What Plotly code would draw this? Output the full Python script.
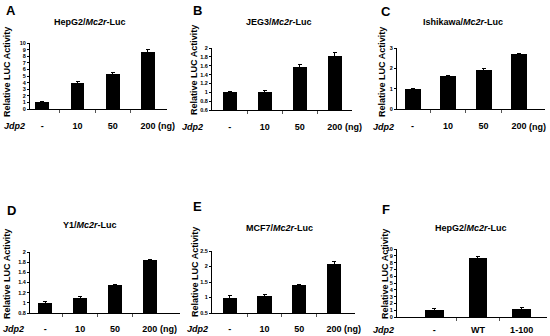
import plotly.graph_objects as go

W, H = 550, 336
FONT = "Liberation Sans, Arial, sans-serif"

# ---------------- data ----------------
dose_labels = ["-", "10", "50", "200"]
mutant_labels = ["-", "WT", "1-100"]

hepg2_vals = [1.0, 3.95, 5.3, 8.6]
hepg2_err = [0.1, 0.25, 0.3, 0.35]

jeg3_vals = [1.0, 1.01, 1.58, 1.82]
jeg3_err = [0.01, 0.02, 0.04, 0.08]

ishikawa_vals = [1.0, 1.6, 1.93, 2.7]
ishikawa_err = [0.03, 0.05, 0.06, 0.03]

y1_vals = [1.0, 1.1, 1.35, 1.85]
y1_err = [0.03, 0.02, 0.01, 0.01]

mcf7_vals = [1.0, 1.06, 1.4, 2.08]
mcf7_err = [0.08, 0.03, 0.03, 0.08]

hepg2_mut_vals = [1.0, 8.7, 1.2]
hepg2_mut_err = [0.3, 0.15, 0.15]

panel_letters = ["A", "B", "C", "D", "E", "F"]
cell_lines = ["HepG2", "JEG3", "Ishikawa", "Y1", "MCF7", "HepG2"]
y_ranges = [[0, 10], [0.6, 2], [0, 3], [0.8, 2], [0.5, 2.5], [0, 10]]
y_dticks = [1, 0.2, 1, 0.2, 0.5, 1]

series = [
    (dose_labels, hepg2_vals, hepg2_err),
    (dose_labels, jeg3_vals, jeg3_err),
    (dose_labels, ishikawa_vals, ishikawa_err),
    (dose_labels, y1_vals, y1_err),
    (dose_labels, mcf7_vals, mcf7_err),
    (mutant_labels, hepg2_mut_vals, hepg2_mut_err),
]

# ---------------- layout geometry (pixels) ----------------
geom = [
    dict(x0=30, x1=167, yt=43, yb=109, xr=[-0.35, 3.54], bw=0.39, so=8, let=(11, 10), tit=(90, 22), yl=(7, 72), jd=(14, 126)),
    dict(x0=212, x1=352, yt=48, yb=110, xr=[-0.51, 3.49], bw=0.40, so=8, let=(197, 11), tit=(279, 22), yl=(194, 70), jd=(192, 127)),
    dict(x0=397, x1=545, yt=48, yb=109, xr=[-0.44, 3.73], bw=0.45, so=8, let=(386, 12), tit=(463, 22), yl=(382, 72), jd=(383, 127)),
    dict(x0=30, x1=180, yt=252, yb=313, xr=[-0.44, 3.87], bw=0.40, so=7, let=(11, 210), tit=(90, 225), yl=(7, 274), jd=(13, 329)),
    dict(x0=212, x1=355, yt=251, yb=313, xr=[-0.51, 3.60], bw=0.41, so=7, let=(197, 206), tit=(280, 228), yl=(195, 272), jd=(197, 329)),
    dict(x0=397, x1=547, yt=249, yb=317, xr=[-0.85, 2.58], bw=0.43, so=4, let=(386, 209), tit=(471, 228), yl=(385, 274), jd=(383, 330)),
]


def px(x):
    return x / W


def py(y):
    return 1 - y / H


def txt(text, x, y, size, angle=0, **kw):
    d = dict(text=text, x=px(x), y=py(y), xref="paper", yref="paper", showarrow=False,
             xanchor="center", yanchor="middle", textangle=angle,
             font=dict(family=FONT, size=size, color="black", weight="bold"))
    d.update(kw)
    return d


fig = go.Figure()
annotations = []

for i, ((labels, vals, errs), g) in enumerate(zip(series, geom)):
    n = i + 1
    xa = "x" if n == 1 else f"x{n}"
    ya = "y" if n == 1 else f"y{n}"
    cats = list(range(len(labels)))
    fig.add_trace(go.Bar(
        x=cats, y=vals, width=g["bw"], xaxis=xa, yaxis=ya,
        marker=dict(color="black", line=dict(width=0)),
        error_y=dict(type="data", array=errs, visible=True, color="black", thickness=1, width=2),
        showlegend=False, hoverinfo="skip",
    ))
    xkey = "xaxis" if n == 1 else f"xaxis{n}"
    ykey = "yaxis" if n == 1 else f"yaxis{n}"
    fig.update_layout(**{
        xkey: dict(
            domain=[px(g["x0"]), px(g["x1"])], anchor=ya, range=g["xr"],
            tickmode="array", tickvals=cats, ticktext=labels, ticks="",
            ticklabelstandoff=g["so"], automargin=False,
            tickfont=dict(family=FONT, size=9, color="black", weight="bold"),
            showline=True, linecolor="black", linewidth=1, showgrid=False, zeroline=False,
            minor=dict(tickmode="array", tickvals=[c + 0.5 for c in cats[:-1]],
                       ticks="outside", ticklen=3, tickcolor="#555", tickwidth=1),
            fixedrange=True,
        ),
        ykey: dict(
            domain=[py(g["yb"]), py(g["yt"])], anchor=xa, range=y_ranges[i],
            dtick=y_dticks[i], tick0=y_ranges[i][0], automargin=False,
            ticks="outside", ticklen=2, tickcolor="black", tickwidth=1,
            tickfont=dict(family=FONT, size=5.5, color="black", weight="bold"),
            showline=True, linecolor="black", linewidth=1, showgrid=False, zeroline=False,
            fixedrange=True,
        ),
    })
    annotations.append(txt(panel_letters[i], g["let"][0], g["let"][1], 13))
    annotations.append(txt(f"{cell_lines[i]}/<i>Mc2r</i>-Luc", g["tit"][0], g["tit"][1], 9))
    annotations.append(txt("Relative LUC Activity", g["yl"][0], g["yl"][1], 9, angle=-90))
    annotations.append(txt("<i>Jdp2</i>", g["jd"][0], g["jd"][1], 9))
    if labels is dose_labels:
        annotations.append(dict(text="(ng)", x=cats[-1], xref=xa, xanchor="left", xshift=8,
                                y=py(g["jd"][1]), yref="paper", yanchor="middle", showarrow=False,
                                font=dict(family=FONT, size=9, color="black", weight="bold")))

fig.update_layout(
    width=W, height=H, margin=dict(l=0, r=0, t=0, b=0, autoexpand=False),
    paper_bgcolor="white", plot_bgcolor="white",
    annotations=annotations, bargap=0, hovermode=False,
)

fig.write_html("out.html", config={"displayModeBar": False},
               post_script="document.body.style.margin='0px';")
